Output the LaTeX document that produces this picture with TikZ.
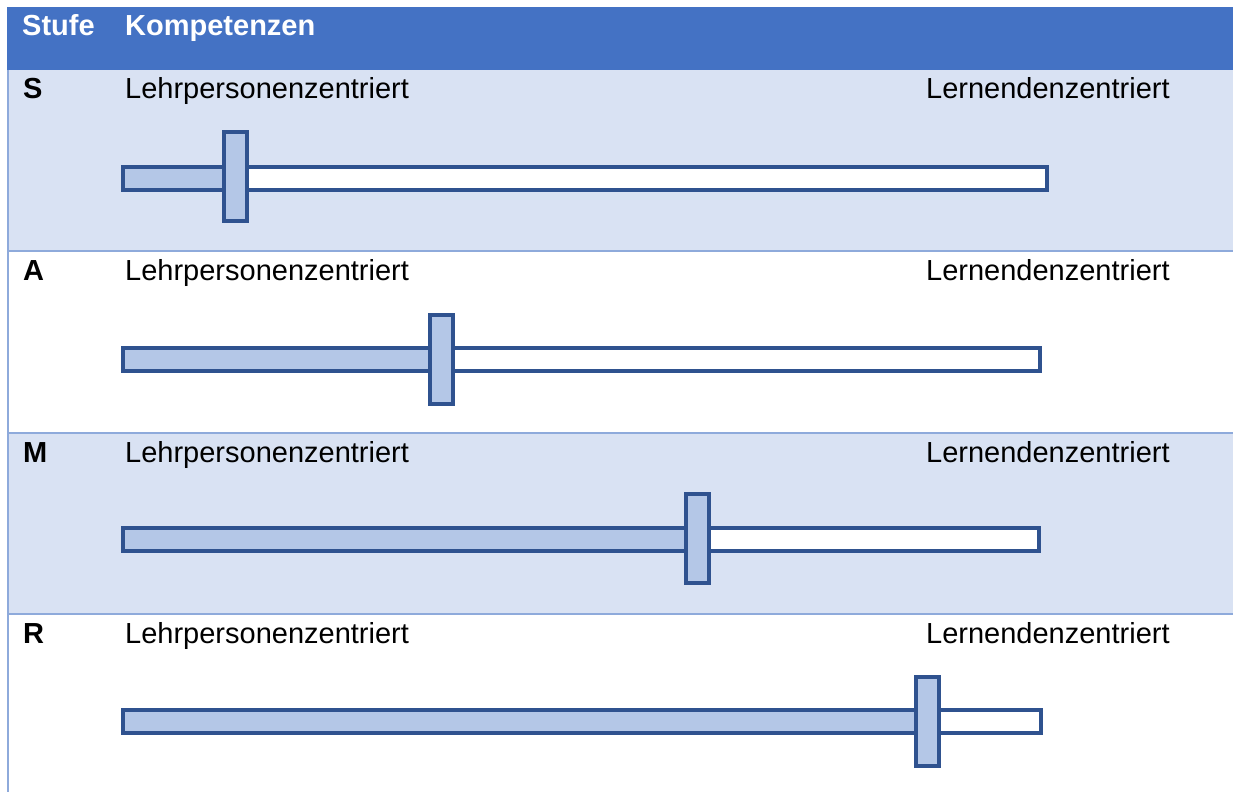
\documentclass[tikz,border=0pt]{standalone}
\usepackage{fontspec}
\setmainfont{Liberation Sans}
\definecolor{hdr}{HTML}{4472C4}
\definecolor{rowlight}{HTML}{D9E2F3}
\definecolor{gridline}{HTML}{8EAADB}
\definecolor{slfill}{HTML}{B4C7E7}
\definecolor{sledge}{HTML}{2F528F}
\tikzset{
  lbl/.style={anchor=base west, inner sep=0pt, font=\fontsize{29}{34}\selectfont},
  hdrlbl/.style={lbl, text=white, font=\fontsize{29}{34}\selectfont\bfseries},
  stufelbl/.style={lbl, font=\fontsize{29}{34}\selectfont\bfseries},
  track/.style={draw=sledge, line width=3.2pt, fill=white},
  trackfill/.style={draw=sledge, line width=3.2pt, fill=slfill},
  knob/.style={draw=sledge, line width=3.2pt, fill=slfill},
  grid/.style={draw=gridline, line width=1.8pt}
}
% #1 track top, #2 track right, #3 knob left, #4 knob top
\newcommand\myslider[4]{%
  \draw[track] (123,#1) rectangle (#2,#1+23);
  \draw[trackfill] (123,#1) rectangle (#3,#1+23);
  \draw[knob] (#3,#4) rectangle (#3+23,#4+89);
}
\begin{document}
\begin{tikzpicture}[x=1pt,y=-1pt]
\useasboundingbox (0,0) rectangle (1233,792);
\fill[white] (0,0) rectangle (1233,792);
% header and row backgrounds
\fill[hdr] (7,7) rectangle (1233,70);
\fill[rowlight] (7,70) rectangle (1233,251);
\fill[rowlight] (7,433) rectangle (1233,614);
\draw[grid] (8,251) -- (1233,251);
\draw[grid] (8,433) -- (1233,433);
\draw[grid] (8,614) -- (1233,614);
\draw[grid] (8,70) -- (8,792);
% header
\node[hdrlbl] (hs) at (22,36) {Stufe};
\node[hdrlbl] (hk) at (125,36) {Kompetenzen};
% rows
\node[stufelbl] (s) at (23,98) {S};
\node[lbl] (sl) at (125,98) {Lehrpersonenzentriert};
\node[lbl] (sr) at (926,98) {Lernendenzentriert};
\myslider{167}{1047}{224}{132}

\node[stufelbl] (a) at (23,280) {A};
\node[lbl] (al) at (125,280) {Lehrpersonenzentriert};
\node[lbl] (ar) at (926,280) {Lernendenzentriert};
\myslider{348}{1040}{430}{315}

\node[stufelbl] (m) at (23,462) {M};
\node[lbl] (ml) at (125,462) {Lehrpersonenzentriert};
\node[lbl] (mr) at (926,462) {Lernendenzentriert};
\myslider{528}{1039}{686}{494}

\node[stufelbl] (r) at (23,643) {R};
\node[lbl] (rl) at (125,643) {Lehrpersonenzentriert};
\node[lbl] (rr) at (926,643) {Lernendenzentriert};
\myslider{710}{1041}{916}{677}
\end{tikzpicture}
\end{document}
